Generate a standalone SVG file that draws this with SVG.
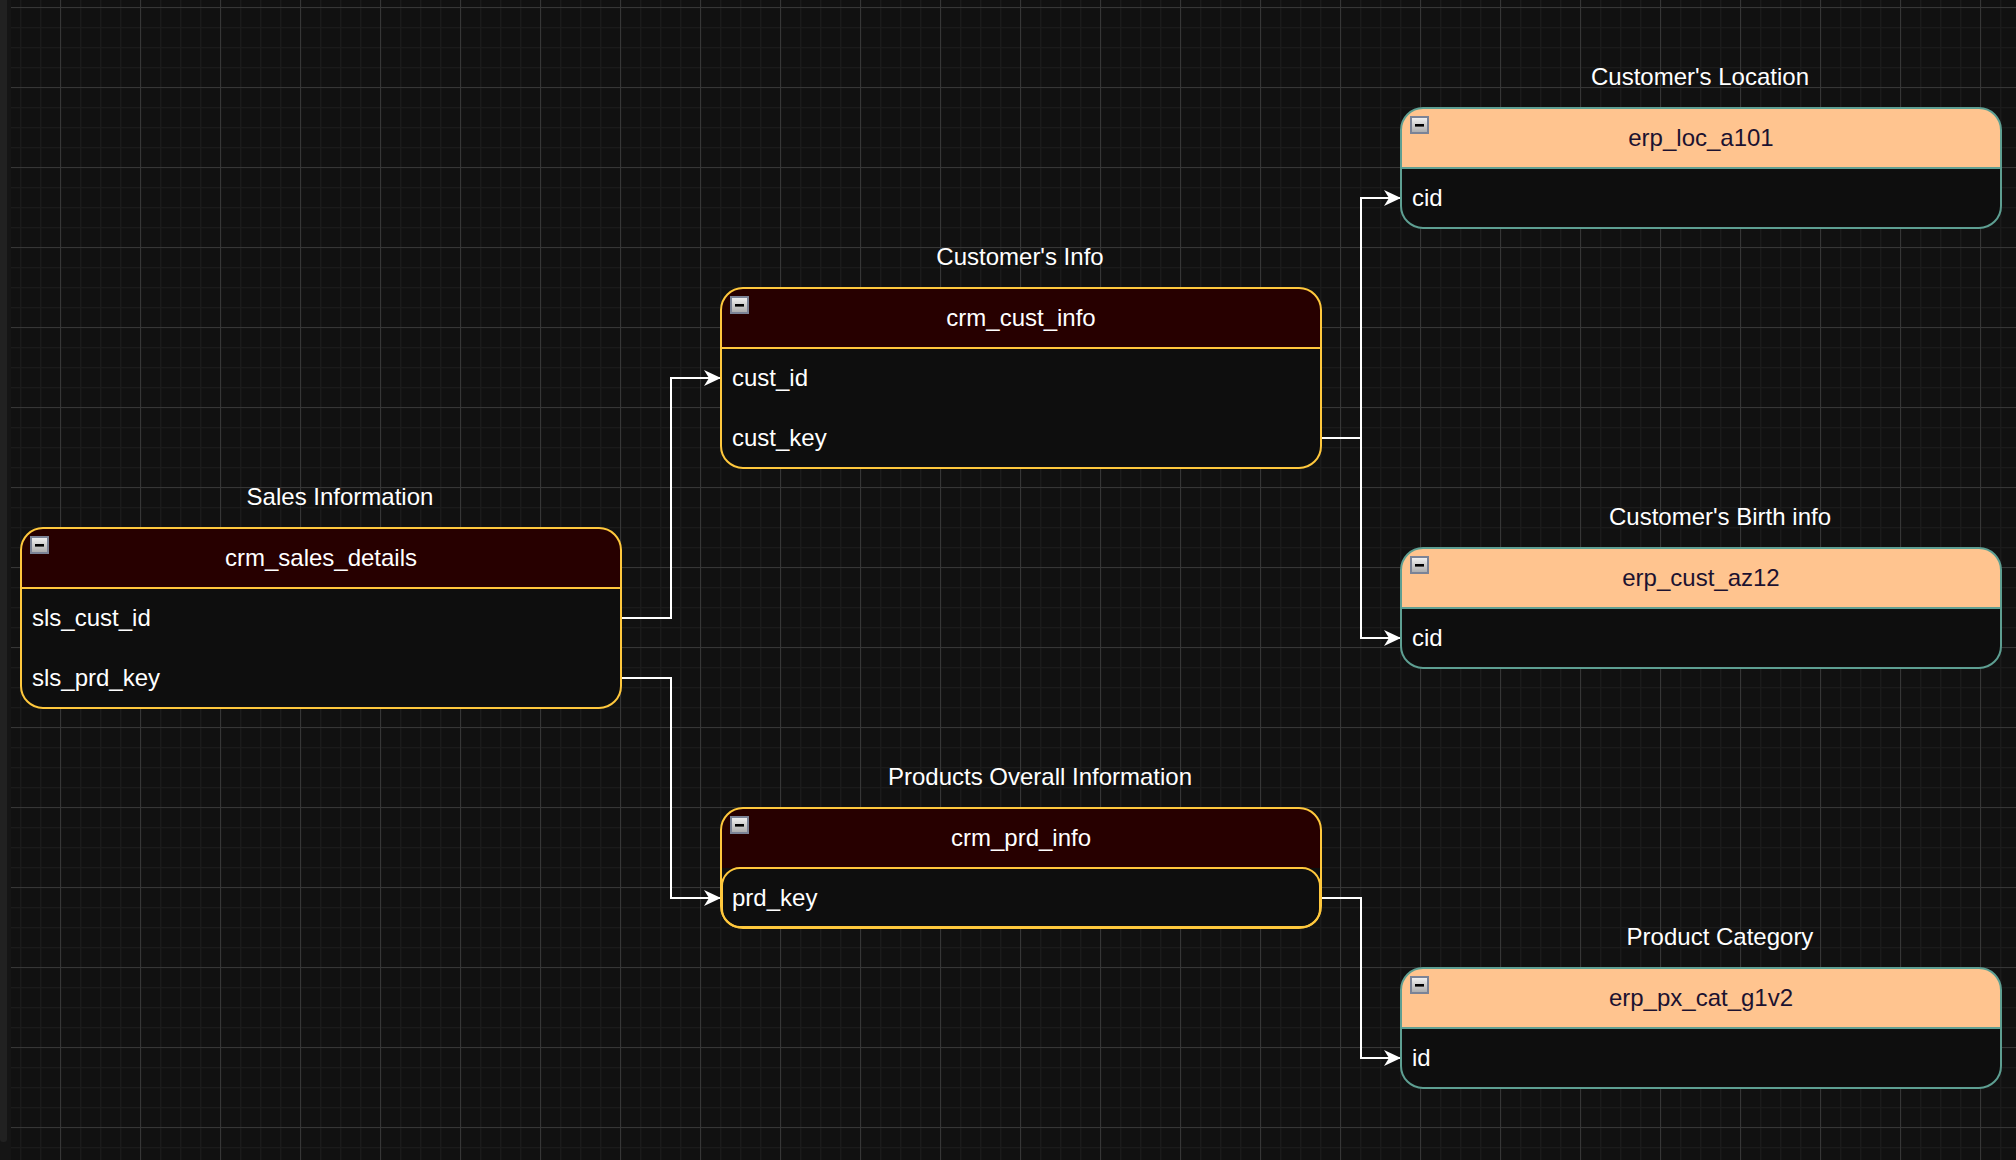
<svg xmlns="http://www.w3.org/2000/svg" width="2016" height="1160" viewBox="0 0 2016 1160">
<defs>
<pattern id="minor" x="0" y="7" width="20" height="20" patternUnits="userSpaceOnUse">
<path d="M0,0.5 H20 M0.5,0 V20" fill="none" stroke="#1b1b1b" stroke-width="1.6"/>
</pattern>
<pattern id="major" x="60" y="7" width="80" height="80" patternUnits="userSpaceOnUse">
<path d="M0,0.5 H80 M0.5,0 V80" fill="none" stroke="#363636" stroke-width="1"/>
</pattern>
<linearGradient id="icg" x1="0" y1="0" x2="0" y2="1">
<stop offset="0" stop-color="#f4f4f4"/>
<stop offset="1" stop-color="#a9a9a9"/>
</linearGradient>
<marker id="arr" viewBox="0 0 17 16" markerWidth="17" markerHeight="16" markerUnits="userSpaceOnUse" refX="17" refY="8" orient="auto">
<path d="M0,0 L17,8 L0,16 L5,8 Z" fill="#ffffff"/>
</marker>
<g id="icon">
<rect x="0" y="0" width="17" height="16" fill="url(#icg)" stroke="#7b8396" stroke-width="2"/>
<rect x="4" y="7" width="9" height="2.6" fill="#000"/>
</g>
</defs>
<style>
.title{font-family:"Liberation Sans",Arial,sans-serif;font-size:24px;fill:#ffffff;text-anchor:middle}
.hdr{font-family:"Liberation Sans",Arial,sans-serif;font-size:24px;text-anchor:middle}
.hdr-dark{fill:#ffffff}
.hdr-light{fill:#1c1230}
.fld{font-family:"Liberation Sans",Arial,sans-serif;font-size:24px;fill:#ffffff}
.body{fill:#0e0e0e}
.crm-outline{fill:none;stroke:#ffc83d;stroke-width:2}
.erp-outline{fill:none;stroke:#5e9f92;stroke-width:2}
.crm-head{fill:#270000}
.erp-head{fill:#ffc48f}
.conn{fill:none;stroke:#ffffff;stroke-width:2;marker-end:url(#arr)}
.line{fill:none;stroke:#ffffff;stroke-width:2}
</style>
<rect x="0" y="0" width="2016" height="1160" fill="#111111"/>
<rect x="11" y="0" width="2005" height="1160" fill="url(#minor)"/>
<rect x="11" y="0" width="2005" height="1160" fill="url(#major)"/>
<rect x="0" y="0" width="11" height="1160" fill="#151515"/>
<rect x="0" y="-10" width="7" height="1152" rx="3" fill="#212121"/>

<g id="connectors">
<path class="conn" d="M621,618 H671 V378 H721"/>
<path class="conn" d="M621,678 H671 V898 H721"/>
<path class="conn" d="M1321,438 H1361 V198 H1401"/>
<path class="conn" d="M1361,438 V638 H1401"/>
<path class="conn" d="M1321,898 H1361 V1058 H1401"/>
</g>

<g id="crm_sales_details">
<text class="title" x="340" y="505">Sales Information</text>
<rect class="body" x="21" y="528" width="600" height="180" rx="22"/>
<path class="crm-head" d="M21,588 V550 A22,22 0 0 1 43,528 H599 A22,22 0 0 1 621,550 V588 Z"/>
<rect class="crm-outline" x="21" y="528" width="600" height="180" rx="22"/>
<path class="line" d="M21,588 H621" style="stroke:#ffc83d"/>
<use href="#icon" x="31" y="537"/>
<text class="hdr hdr-dark" x="321" y="566">crm_sales_details</text>
<text class="fld" x="32" y="626">sls_cust_id</text>
<text class="fld" x="32" y="686">sls_prd_key</text>
</g>

<g id="crm_cust_info">
<text class="title" x="1020" y="265">Customer's Info</text>
<rect class="body" x="721" y="288" width="600" height="180" rx="22"/>
<path class="crm-head" d="M721,348 V310 A22,22 0 0 1 743,288 H1299 A22,22 0 0 1 1321,310 V348 Z"/>
<rect class="crm-outline" x="721" y="288" width="600" height="180" rx="22"/>
<path class="line" d="M721,348 H1321" style="stroke:#ffc83d"/>
<use href="#icon" x="731" y="297"/>
<text class="hdr hdr-dark" x="1021" y="326">crm_cust_info</text>
<text class="fld" x="732" y="386">cust_id</text>
<text class="fld" x="732" y="446">cust_key</text>
</g>

<g id="crm_prd_info">
<text class="title" x="1040" y="785">Products Overall Information</text>
<rect class="body" x="721" y="808" width="600" height="120" rx="22"/>
<path class="crm-head" d="M721,868 V830 A22,22 0 0 1 743,808 H1299 A22,22 0 0 1 1321,830 V868 Z"/>
<rect class="crm-outline" x="721" y="808" width="600" height="120" rx="22"/>
<rect class="crm-outline" x="722" y="868" width="598" height="59" rx="18"/>
<use href="#icon" x="731" y="817"/>
<text class="hdr hdr-dark" x="1021" y="846">crm_prd_info</text>
<text class="fld" x="732" y="906">prd_key</text>
</g>

<g id="erp_loc_a101">
<text class="title" x="1700" y="85">Customer's Location</text>
<rect class="body" x="1401" y="108" width="600" height="120" rx="22"/>
<path class="erp-head" d="M1401,168 V130 A22,22 0 0 1 1423,108 H1979 A22,22 0 0 1 2001,130 V168 Z"/>
<rect class="erp-outline" x="1401" y="108" width="600" height="120" rx="22"/>
<path class="line" d="M1401,168 H2001" style="stroke:#5e9f92"/>
<use href="#icon" x="1411" y="117"/>
<text class="hdr hdr-light" x="1701" y="146">erp_loc_a101</text>
<text class="fld" x="1412" y="206">cid</text>
</g>

<g id="erp_cust_az12">
<text class="title" x="1720" y="525">Customer's Birth info</text>
<rect class="body" x="1401" y="548" width="600" height="120" rx="22"/>
<path class="erp-head" d="M1401,608 V570 A22,22 0 0 1 1423,548 H1979 A22,22 0 0 1 2001,570 V608 Z"/>
<rect class="erp-outline" x="1401" y="548" width="600" height="120" rx="22"/>
<path class="line" d="M1401,608 H2001" style="stroke:#5e9f92"/>
<use href="#icon" x="1411" y="557"/>
<text class="hdr hdr-light" x="1701" y="586">erp_cust_az12</text>
<text class="fld" x="1412" y="646">cid</text>
</g>

<g id="erp_px_cat_g1v2">
<text class="title" x="1720" y="945">Product Category</text>
<rect class="body" x="1401" y="968" width="600" height="120" rx="22"/>
<path class="erp-head" d="M1401,1028 V990 A22,22 0 0 1 1423,968 H1979 A22,22 0 0 1 2001,990 V1028 Z"/>
<rect class="erp-outline" x="1401" y="968" width="600" height="120" rx="22"/>
<path class="line" d="M1401,1028 H2001" style="stroke:#5e9f92"/>
<use href="#icon" x="1411" y="977"/>
<text class="hdr hdr-light" x="1701" y="1006">erp_px_cat_g1v2</text>
<text class="fld" x="1412" y="1066">id</text>
</g>
</svg>
